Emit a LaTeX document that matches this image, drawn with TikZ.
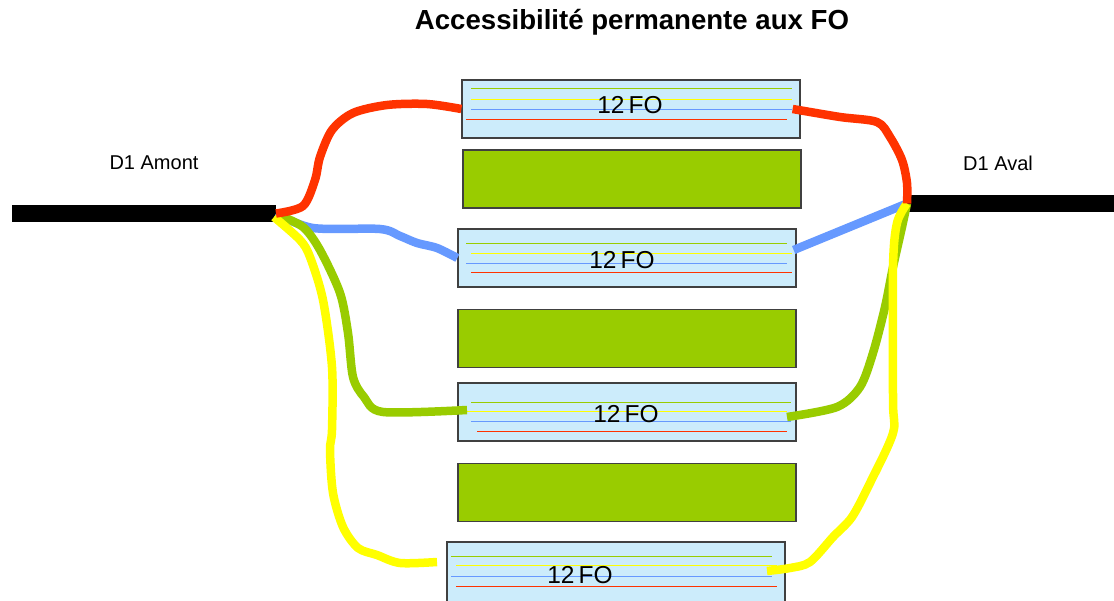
\documentclass[tikz,border=0pt]{standalone}
\usepackage{fontspec}
\setmainfont{Liberation Sans}
\usetikzlibrary{calc}
\definecolor{boxedge}{HTML}{404040}
\definecolor{boxfill}{HTML}{CCECFB}
\definecolor{leaf}{HTML}{99CC00}
\definecolor{fred}{HTML}{FF3300}
\definecolor{fblue}{HTML}{6699FF}
\definecolor{fgreen}{HTML}{99CC00}
\definecolor{fyellow}{HTML}{FFFF00}
% one thin fibre across a cassette: box, colour, left inset, right inset, depth below top edge
\newcommand\fibre[5]{\draw[fibreline,draw=#2] ($(#1.north west)+(#3,#5)$) -- ($(#1.north east)+(-#4,#5)$);}
\begin{document}
\begin{tikzpicture}[x=1pt,y=-1pt,
  fobox/.style={draw=boxedge, fill=boxfill, line width=1.3pt, minimum width=338pt, minimum height=58pt, inner sep=0pt},
  spare/.style={draw=boxedge, fill=leaf, line width=1.3pt, minimum width=338pt, minimum height=58pt, inner sep=0pt},
  fibreline/.style={line width=1.6pt},
  cable/.style={line width=8.5pt, line join=round},
  trunk/.style={line width=17pt},
  lbl/.style={font=\fontsize{20}{24}\selectfont, inner sep=0pt},
  fo/.style={font=\fontsize{24.5}{28}\selectfont, inner sep=0pt}]
\clip (0,0) rectangle (1114,601);
\fill[white] (0,0) rectangle (1114,601);

% title and end labels
\node[font=\bfseries\fontsize{27.6}{30}\selectfont, inner sep=0pt] (title) at (632,22) {Accessibilité permanente aux FO};
\node[lbl] (amontlbl) at (154,163) {D1 Amont};
\node[lbl] (avallbl) at (998,163) {D1 Aval};

% main cable ends
\coordinate (amontA) at (12,213.5);
\coordinate (amont) at (276,213.5);
\coordinate (aval) at (907,203.5);
\coordinate (avalB) at (1114,203.5);
\draw[trunk] (amontA) -- (amont);
\draw[trunk] (aval) -- (avalB);

% cassettes and spare slots
\node[fobox] (f1) at (631,109) {};
\node[spare] (g1) at (632,179) {};
\node[fobox] (f2) at (627,258) {};
\node[spare] (g2) at (627,338.5) {};
\node[fobox] (f3) at (627,412) {};
\node[spare] (g3) at (627,492.5) {};
\node[fobox, minimum height=62pt] (f4) at (616,573) {};

% fibres in each cassette
\fibre{f1}{fgreen}{10}{9}{9}
\fibre{f1}{fyellow}{10}{9}{20}
\fibre{f1}{fblue}{10}{9}{30}
\fibre{f1}{fred}{5}{14}{40}
\fibre{f2}{fgreen}{9}{10}{15}
\fibre{f2}{fyellow}{14}{5}{25}
\fibre{f2}{fblue}{9}{10}{35}
\fibre{f2}{fred}{14}{5}{44}
\fibre{f3}{fgreen}{14}{6}{20}
\fibre{f3}{fyellow}{10}{10}{29}
\fibre{f3}{fblue}{14}{6}{39}
\fibre{f3}{fred}{20}{10}{49}
\fibre{f4}{fgreen}{5}{14}{15}
\fibre{f4}{fyellow}{10}{9}{24}
\fibre{f4}{fblue}{5}{14}{35}
\fibre{f4}{fred}{10}{9}{45}

\node[fo] (t1) at (630,105) {12\,FO};
\node[fo] (t2) at (622,260) {12\,FO};
\node[fo] (t3) at (626,414) {12\,FO};
\node[fo] (t4) at (580,575) {12\,FO};

% loose ends of the patch cables inside the cassettes
\coordinate (g3in) at (467,410);
\coordinate (g3out) at (787,417);
\coordinate (y4in) at (437,562);
\coordinate (y4out) at (767,571);

% blue route through cassette 2
\draw[cable,fblue] plot[smooth,tension=0.5] coordinates {(amont) (313,228) (380,229) (400,236) (417,243) (437,248) (f2.west)};
\draw[cable,fblue] ($(f2.east)+(-3,-8)$) -- (aval);

% green route through cassette 3
\draw[cable,fgreen] plot[smooth,tension=0.5] coordinates {(278,215) (303,227) (320,250) (340,293) (348,333) (353,377) (364,397) (383,412) (g3in)};
\draw[cable,fgreen] plot[smooth,tension=0.5] coordinates {(g3out) (837,407) (860,387) (873,353) (885,307) (893,267) (902,227) (aval)};

% yellow route through cassette 4
\draw[cable,fyellow] plot[smooth,tension=0.5] coordinates {(274,217) (300,240) (310,257) (323,300) (332,367) (332,430) (330,450) (333,493) (343,527) (358,548) (377,555) (400,563) (y4in)};
\draw[cable,fyellow] plot[smooth,tension=0.5] coordinates {(y4out) (790,568) (810,562) (833,537) (852,517) (870,483) (893,433) (893,400) (893,267) (897,223) (aval)};

% red route through cassette 1
\draw[cable,fred] plot[smooth,tension=0.5] coordinates {(amont) (303,206) (315,180) (320,157) (332,130) (353,113) (387,105) (427,104) (f1.west)};
\draw[cable,fred] plot[smooth,tension=0.5] coordinates {($(f1.east)+(-8,0)$) (840,117) (877,122) (890,137) (902,160) (907,183) (aval)};
\end{tikzpicture}
\end{document}
